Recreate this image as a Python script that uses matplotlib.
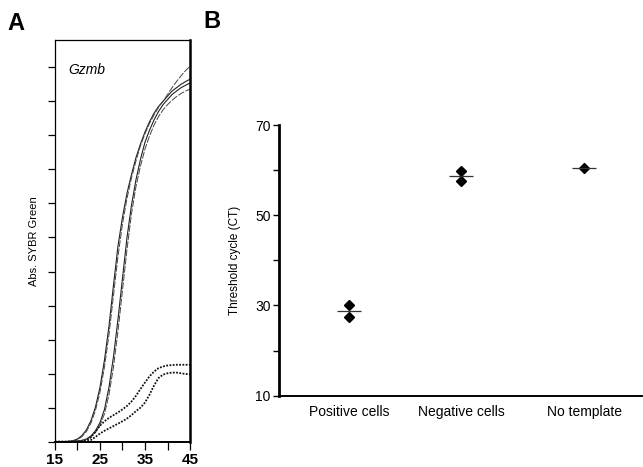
import matplotlib
matplotlib.use("Agg")
from matplotlib import pyplot as plt
from matplotlib.transforms import ScaledTranslation

plt.rcParams['font.family'] = ['Liberation Sans', 'DejaVu Sans']

# panel A: amplification curves, one value per cycle
cycles = list(range(15, 46))

pos_a1 = [0, 0, 0, 0.01, 0.03, 0.08, 0.18, 0.35, 0.62, 1.02, 1.6, 2.4, 3.4, 4.6, 5.75, 6.6,
          7.3, 7.85, 8.35, 8.75, 9.1, 9.4, 9.65, 9.85, 10.0, 10.15, 10.3, 10.4, 10.5, 10.58, 10.65]
pos_a2 = [0, 0, 0, 0.01, 0.02, 0.06, 0.15, 0.3, 0.55, 0.92, 1.45, 2.2, 3.15, 4.3, 5.45, 6.4,
          7.15, 7.75, 8.25, 8.7, 9.05, 9.35, 9.6, 9.82, 10.0, 10.2, 10.4, 10.58, 10.75, 10.9, 11.03]
pos_b1 = [0, 0, 0, 0, 0.01, 0.02, 0.04, 0.08, 0.17, 0.32, 0.56, 0.95, 1.6, 2.5, 3.6, 4.8,
          6.0, 6.95, 7.7, 8.3, 8.8, 9.15, 9.45, 9.7, 9.9, 10.05, 10.2, 10.3, 10.4, 10.47, 10.54]
pos_b2 = [0, 0, 0, 0, 0.01, 0.02, 0.03, 0.07, 0.14, 0.27, 0.48, 0.82, 1.38, 2.2, 3.25, 4.45,
          5.65, 6.7, 7.5, 8.1, 8.6, 8.98, 9.3, 9.55, 9.75, 9.9, 10.03, 10.14, 10.23, 10.3, 10.36]
neg_1 = [0, 0, 0, 0, 0, 0, 0, 0.04, 0.13, 0.3, 0.47, 0.6, 0.7, 0.78, 0.86, 0.95,
         1.05, 1.18, 1.35, 1.55, 1.74, 1.92, 2.06, 2.16, 2.21, 2.24, 2.25, 2.26, 2.26, 2.26, 2.26]
neg_2 = [0, 0, 0, 0, 0, 0, 0, 0, 0.05, 0.14, 0.24, 0.32, 0.39, 0.46, 0.53, 0.6,
         0.68, 0.78, 0.9, 1.0, 1.15, 1.38, 1.65, 1.87, 1.97, 2.01, 2.03, 2.03, 2.01, 1.99, 1.98]
no_tmpl = [0.0] * len(cycles)

# panel B: threshold cycles
groups = ["Positive cells", "Negative cells", "No template"]
group_x = [1, 2, 3.1]
ct_values = [[30.0, 27.5], [59.8, 57.5], [60.4]]
ct_means = [28.7, 58.6, 60.4]

fig = plt.figure(figsize=(6.43, 4.67), dpi=100)

# ---- A ----
ax = fig.add_axes([0.0855, 0.0542, 0.21, 0.86])
ax.plot(cycles, pos_a1, color="#222222", lw=0.8)
ax.plot(cycles, pos_a2, color="#444444", lw=0.7, dashes=(7, 1.5))
ax.plot(cycles, pos_b1, color="#222222", lw=0.8)
ax.plot(cycles, pos_b2, color="#444444", lw=0.7, dashes=(7, 1.5))
ax.plot(cycles, neg_1, color="#111111", lw=1.3, ls=(0, (1, 0.8)))
ax.plot(cycles, neg_2, color="#111111", lw=1.3, ls=(0, (1, 0.8)))
ax.plot(cycles, no_tmpl, color="#111111", lw=1.3, ls=(0, (1, 0.8)))

ax.set_xlim(15, 45)
ax.set_ylim(0, 11.8)
ax.set_xticks([15, 25, 35, 45])
ax.set_xticks([20, 30, 40], minor=True)
ax.set_xticklabels(["15", "25", "35", "45"], fontweight="bold", fontsize=11)
ax.set_yticks(range(0, 12))
ax.set_yticklabels([])
ax.tick_params(axis="both", which="both", direction="out", length=5, width=0.9)
ax.tick_params(axis="x", which="both", length=6, pad=2)
for side in ["top", "left", "bottom"]:
    ax.spines[side].set_linewidth(0.9)
ax.spines["right"].set_linewidth(1.8)
ax.spines["bottom"].set_linewidth(1.4)
ax.set_ylabel("Abs. SYBR Green", fontsize=8, labelpad=3)
ax.text(0.1, 0.915, "Gzmb", transform=ax.transAxes, fontsize=10, style="italic")

fig.text(0.011, 0.935, "A", fontsize=17, fontweight="bold")

# ---- B ----
bx = fig.add_axes([0.434, 0.1527, 0.565, 0.5796])
for x, vals, m in zip(group_x, ct_values, ct_means):
    bx.plot([x] * len(vals), vals, "D", color="black", ms=5)
    bx.hlines(m, x - 0.11, x + 0.11, color="#333333", lw=0.9)

bx.set_xlim(0.377, 3.62)
bx.set_ylim(10, 70)
bx.set_yticks(range(10, 71, 10))
bx.set_yticklabels(["10", "", "30", "", "50", "", "70"], fontsize=10)
bx.set_xticks(group_x)
bx.set_xticklabels(groups, fontsize=10)
shift = ScaledTranslation(3 / 100, 0, fig.dpi_scale_trans)
for lab in bx.get_xticklabels():
    lab.set_transform(lab.get_transform() + shift)
bx.tick_params(axis="x", length=0, pad=7)
bx.tick_params(axis="y", direction="out", length=4, width=1, pad=2)
bx.spines["top"].set_visible(False)
bx.spines["right"].set_visible(False)
bx.spines["left"].set_linewidth(2.0)
bx.spines["bottom"].set_linewidth(1.4)
bx.set_ylabel("Threshold cycle (CT)", fontsize=8.5, labelpad=10)

fig.text(0.317, 0.94, "B", fontsize=17, fontweight="bold")

fig.savefig("out.png", dpi=100)
